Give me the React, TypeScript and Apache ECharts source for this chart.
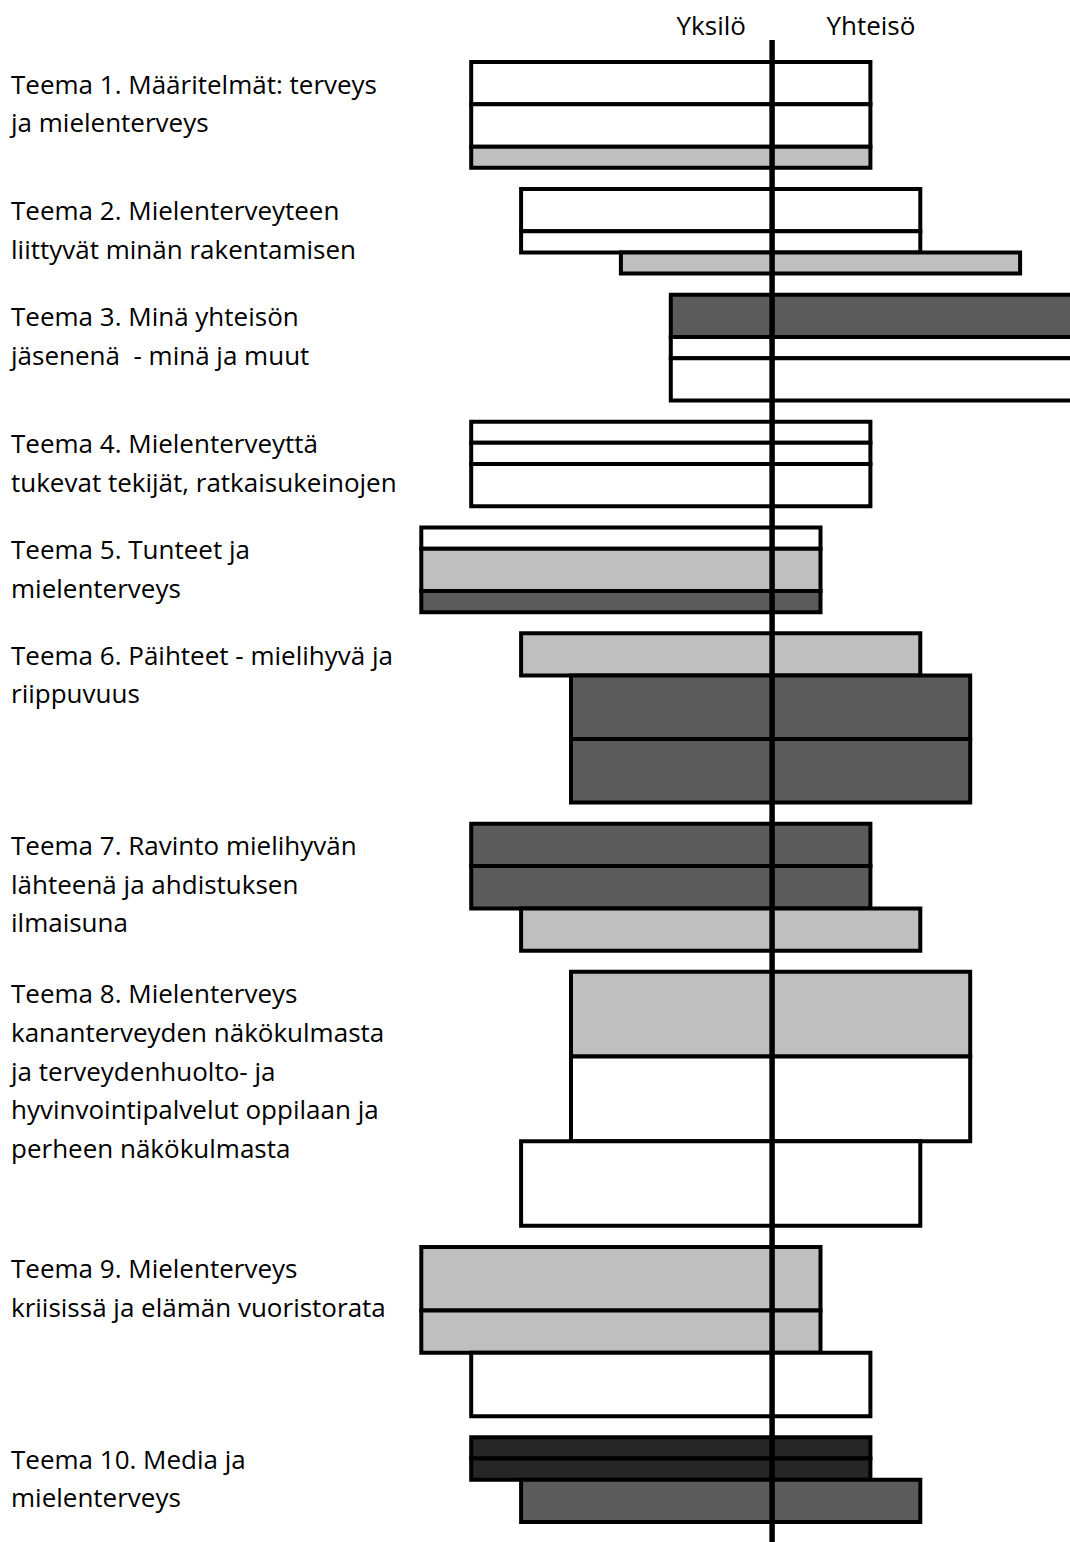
import React, { useEffect, useRef } from "react";
import * as echarts from "echarts";

// ---- Data ----
const themeLabels: string[] = [
  "Teema 1. Määritelmät: terveys\nja mielenterveys",
  "Teema 2. Mielenterveyteen\nliittyvät minän rakentamisen",
  "Teema 3. Minä yhteisön\njäsenenä  - minä ja muut",
  "Teema 4. Mielenterveyttä\ntukevat tekijät, ratkaisukeinojen",
  "Teema 5. Tunteet ja\nmielenterveys",
  "Teema 6. Päihteet - mielihyvä ja\nriippuvuus",
  "Teema 7. Ravinto mielihyvän\nlähteenä ja ahdistuksen\nilmaisuna",
  "Teema 8. Mielenterveys\nkananterveyden näkökulmasta\nja terveydenhuolto- ja\nhyvinvointipalvelut oppilaan ja\nperheen näkökulmasta",
  "Teema 9. Mielenterveys\nkriisissä ja elämän vuoristorata",
  "Teema 10. Media ja\nmielenterveys",
];

// three bars per theme, in order
const barTheme = [0, 0, 0, 1, 1, 1, 2, 2, 2, 3, 3, 3, 4, 4, 4, 5, 5, 5, 6, 6, 6, 7, 7, 7, 8, 8, 8, 9, 9, 9];
const barStart = [1, 1, 1, 2, 2, 4, 5, 5, 5, 1, 1, 1, 0, 0, 0, 2, 3, 3, 1, 1, 2, 3, 3, 2, 0, 0, 1, 1, 1, 2];
const barEnd = [9, 9, 9, 10, 10, 12, 14, 14, 14, 9, 9, 9, 8, 8, 8, 10, 11, 11, 9, 9, 10, 11, 11, 10, 8, 8, 9, 9, 9, 10];
const barSize = [2, 2, 1, 2, 1, 1, 2, 1, 2, 1, 1, 2, 1, 2, 1, 2, 3, 3, 2, 2, 2, 4, 4, 4, 3, 2, 3, 1, 1, 2];
const barShade = [
  "white", "white", "light",
  "white", "white", "light",
  "dark", "white", "white",
  "white", "white", "white",
  "white", "light", "dark",
  "light", "dark", "dark",
  "dark", "dark", "light",
  "light", "white", "white",
  "light", "light", "white",
  "black", "black", "dark",
];

const headerLabels = ["Yksilö", "Yhteisö"];
const headerX = [5.81, 9.01];
const dividerX = 7.03;
const themeGap = 1;

const shadeColors: Record<string, string> = {
  white: "#ffffff",
  light: "#bfbfbf",
  dark: "#5b5b5b",
  black: "#262626",
};

const FONT = "'Open Sans', sans-serif";
const FONT_SIZE = 26;

export default function App() {
  const ref = useRef<HTMLDivElement>(null);

  useEffect(() => {
    if (!ref.current) return;
    const chart = echarts.init(ref.current, undefined, { renderer: "svg" });

    // compute vertical layout from bar sizes
    const barY0: number[] = [];
    const barY1: number[] = [];
    const themeTop: number[] = [];
    let cursor = 0;
    let lastTheme = -1;
    for (let i = 0; i < barTheme.length; i++) {
      if (barTheme[i] !== lastTheme) {
        if (lastTheme !== -1) cursor += themeGap;
        themeTop[barTheme[i]] = cursor;
        lastTheme = barTheme[i];
      }
      barY0.push(cursor);
      cursor += barSize[i];
      barY1.push(cursor);
    }
    const yMax = cursor;

    const barData = barTheme.map((_, i) => [barStart[i], barEnd[i], barY0[i], barY1[i]]);
    const labelData = themeLabels.map((_, i) => [0, themeTop[i]]);

    chart.setOption({
      animation: false,
      grid: { left: 421.3, width: 650, top: 62, height: 1460 },
      xAxis: { type: "value", min: 0, max: 13, show: false, splitLine: { show: false } },
      yAxis: { type: "value", min: 0, max: yMax, inverse: true, show: false, splitLine: { show: false } },
      series: [
        {
          type: "custom",
          clip: false,
          data: barData,
          renderItem: (params: any, api: any) => {
            const p0 = api.coord([api.value(0), api.value(2)]);
            const p1 = api.coord([api.value(1), api.value(3)]);
            return {
              type: "rect",
              shape: { x: p0[0], y: p0[1], width: p1[0] - p0[0], height: p1[1] - p0[1] },
              style: { fill: shadeColors[barShade[params.dataIndex]], stroke: "#000000", lineWidth: 4 },
            };
          },
          z: 2,
        },
        {
          type: "custom",
          clip: false,
          data: [[dividerX, 0]],
          renderItem: (params: any, api: any) => {
            const top = api.coord([api.value(0), 0]);
            const bottom = api.coord([api.value(0), yMax]);
            return {
              type: "line",
              shape: { x1: top[0], y1: top[1] - 22, x2: top[0], y2: bottom[1] + 22 },
              style: { stroke: "#000000", lineWidth: 5.5 },
            };
          },
          z: 3,
        },
        {
          type: "custom",
          clip: false,
          data: labelData,
          renderItem: (params: any, api: any) => {
            const p = api.coord([0, api.value(1)]);
            const lines = themeLabels[params.dataIndex].split("\n");
            return {
              type: "group",
              children: lines.map((ln, k) => ({
                type: "text",
                x: 11,
                y: p[1] + 21.5 + k * 38.6,
                style: {
                  text: ln,
                  fill: "#000000",
                  font: `${FONT_SIZE}px ${FONT}`,
                  align: "left",
                  verticalAlign: "middle",
                },
              })),
            };
          },
          z: 4,
        },
        {
          type: "custom",
          clip: false,
          data: headerX.map((x) => [x, 0]),
          renderItem: (params: any, api: any) => {
            const p = api.coord([api.value(0), 0]);
            return {
              type: "text",
              x: p[0],
              y: p[1] - 37,
              style: {
                text: headerLabels[params.dataIndex],
                fill: "#000000",
                font: `${FONT_SIZE}px ${FONT}`,
                align: "center",
                verticalAlign: "middle",
              },
            };
          },
          z: 4,
        },
      ],
    });

    return () => chart.dispose();
  }, []);

  return (
    <div
      ref={ref}
      style={{ position: "fixed", left: 0, top: 0, width: 1070, height: 1542, background: "#ffffff" }}
    />
  );
}
